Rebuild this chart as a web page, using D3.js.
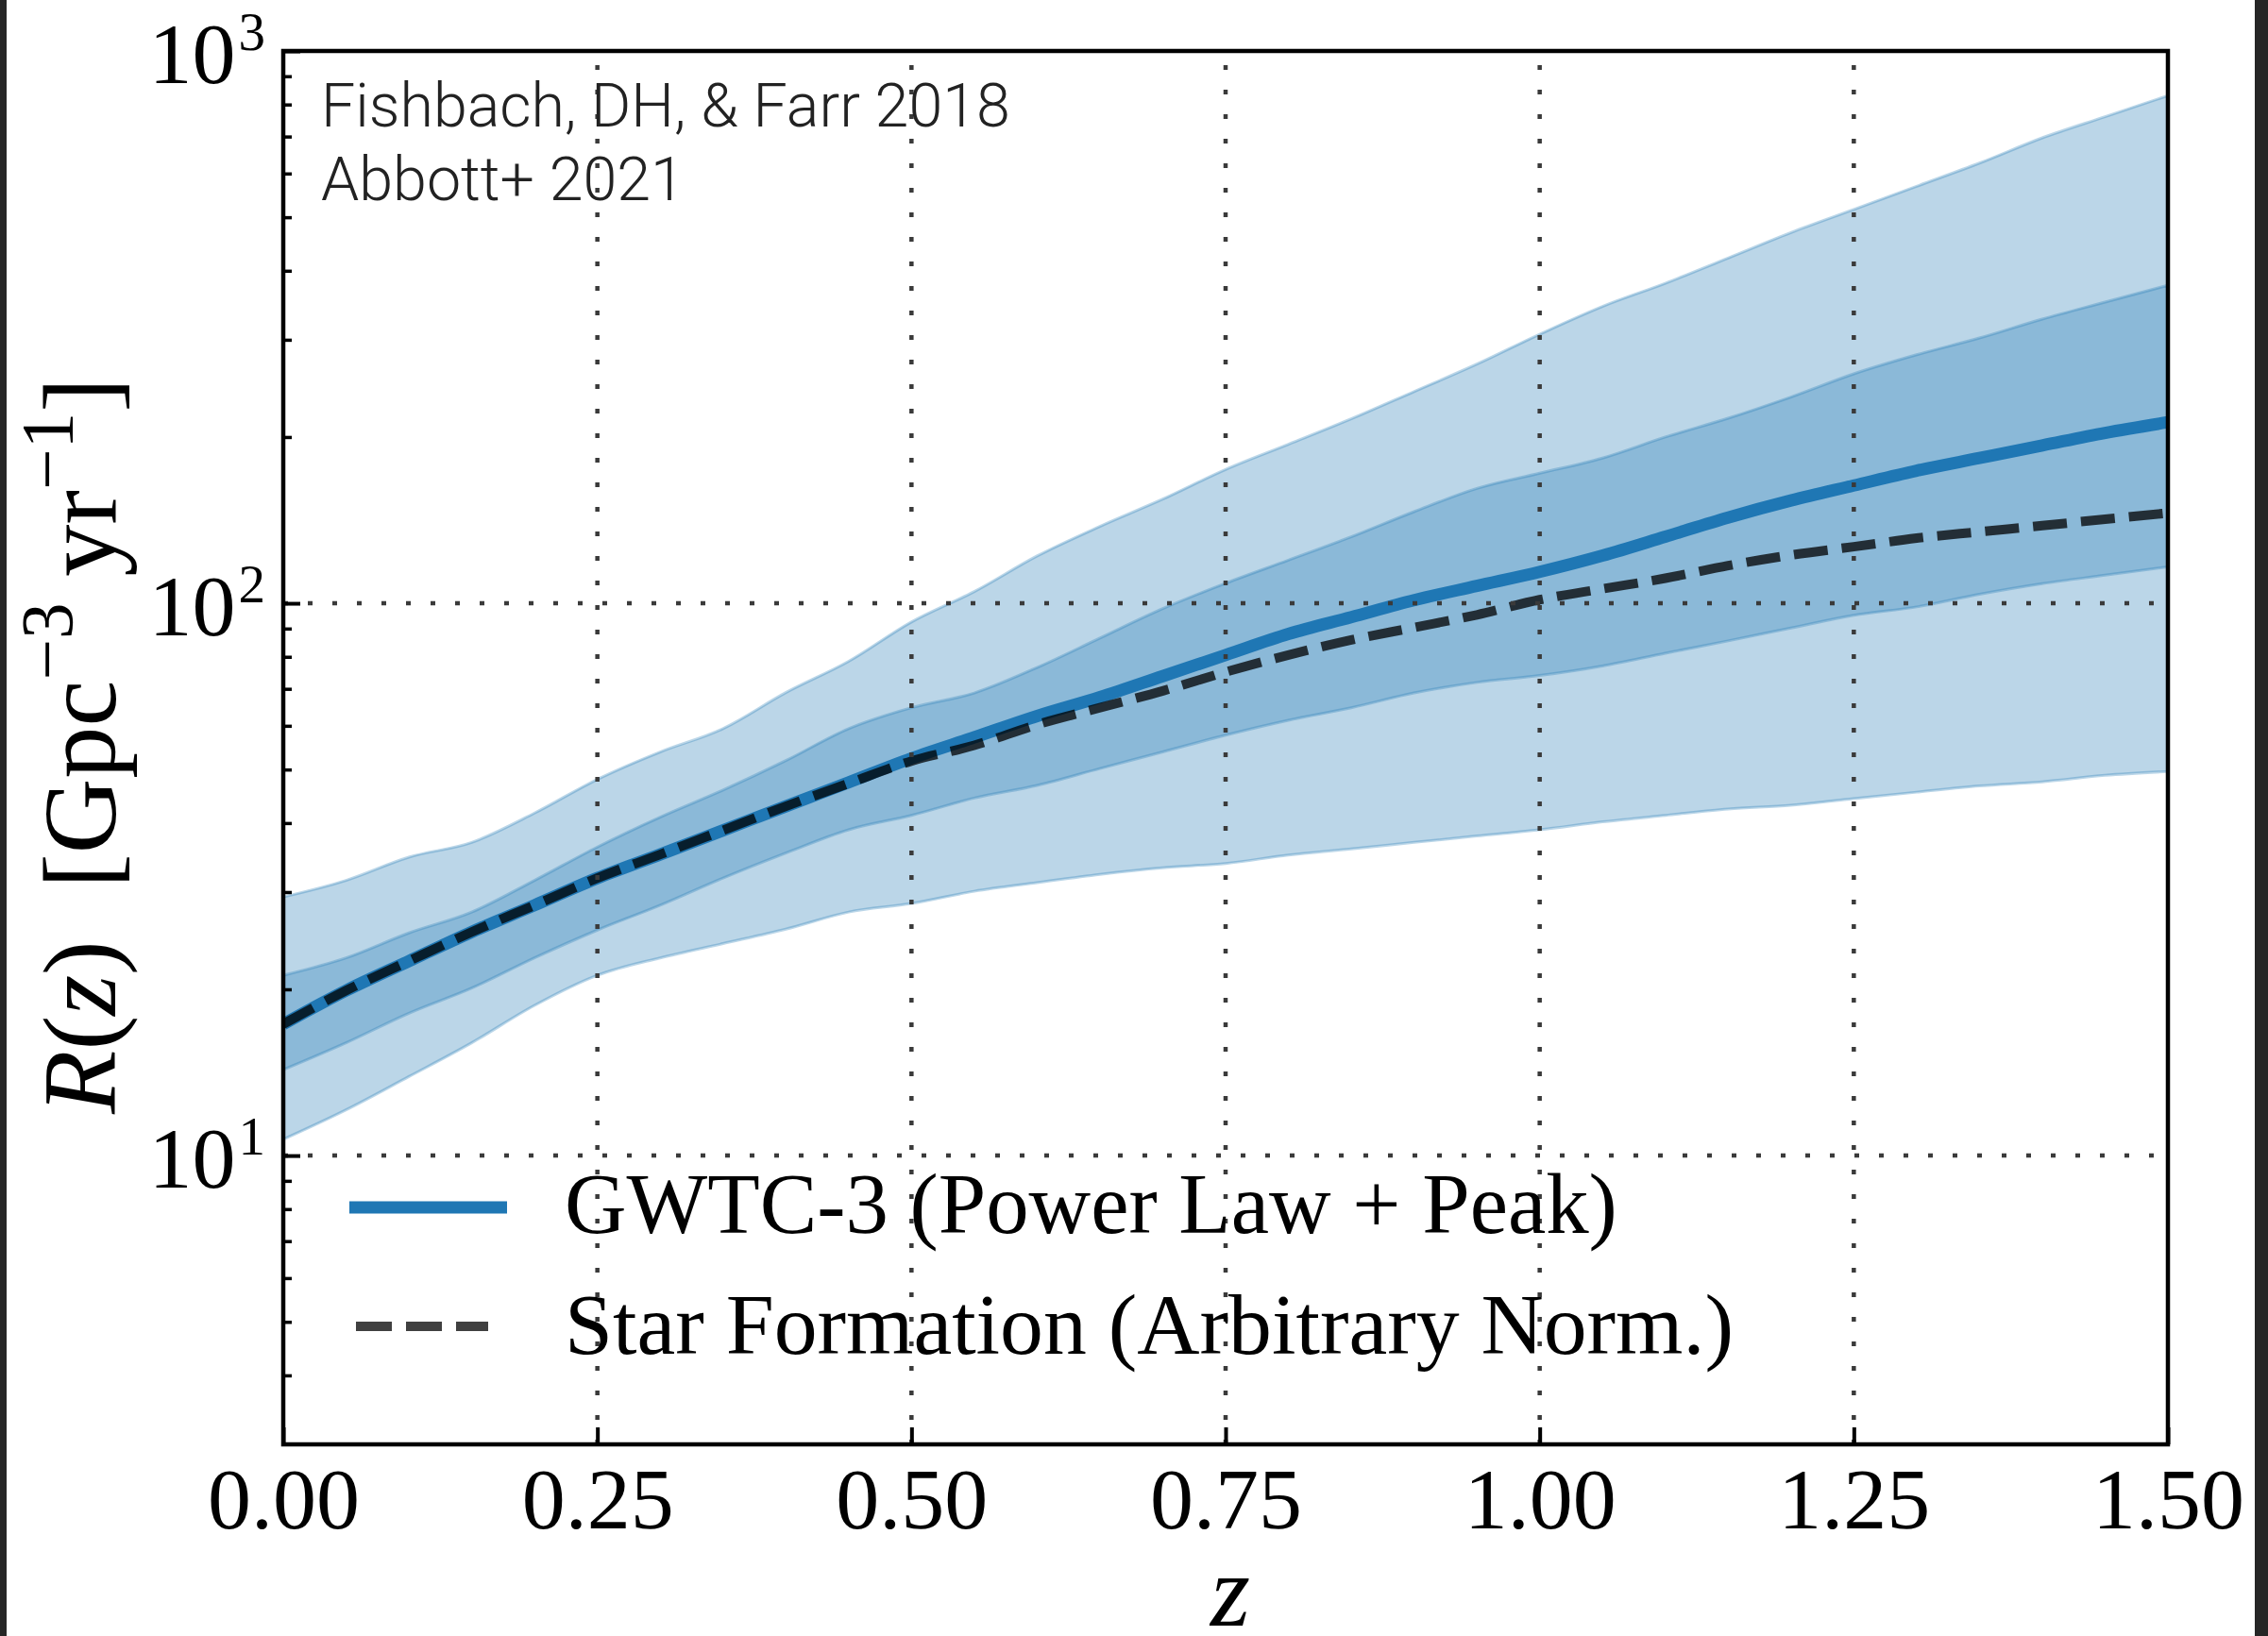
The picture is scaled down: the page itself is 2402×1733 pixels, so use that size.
<!DOCTYPE html>
<html><head><meta charset="utf-8">
<script src="https://cdn.jsdelivr.net/npm/d3@7"></script>
<style>html,body{margin:0;padding:0;background:#fff;overflow:hidden}</style>
</head><body>
<svg id="chart" width="2402" height="1733"></svg>
<script>
// ---------------- data ----------------
const zs = [0,0.05,0.1,0.15,0.2,0.25,0.3,0.35,0.4,0.45,0.5,0.55,0.6,0.65,0.7,0.75,0.8,0.85,0.9,0.95,1.0,1.05,1.1,1.15,1.2,1.25,1.3,1.35,1.4,1.45,1.5];
const hi90 = [29.4,31.5,34.7,36.9,41.7,48.0,53.8,59.3,68.9,78.5,92.5,105,121.8,137.8,154.4,174.7,194,215.7,241.7,271,307,344.8,379.7,421.9,469,516.4,568.9,626.6,696.2,760.3,830];
const hi50 = [21.2,22.8,25.3,27.6,31.5,36.2,41.0,45.9,51.9,59.3,64.7,68.8,76.5,86.5,97.8,108.7,119.7,131.9,146.5,161.4,172,183.2,200,216.3,236.3,260.3,281.8,302.2,327,351,376.5];
const median = [17.3,19.9,22.5,25.4,28.4,31.8,35.1,38.8,42.9,47.4,52.4,57.2,62.5,67.6,73.8,80.6,88.0,94.4,101.3,107.5,114,122,132,143,153.5,163.4,173.8,183.2,193.1,203.5,212.7];
const starFormation = [17.3,19.9,22.5,25.4,28.4,31.8,35.1,38.8,42.9,47.2,51.8,55.3,60.3,64.7,69.4,75.1,80.6,85.8,90.4,95.3,101.5,106.2,111,117,122.3,126.6,131.2,134.7,138.2,142,145.7];
const lo50 = [14.3,16.0,18.1,20.1,22.8,25.6,28.4,31.8,35.3,38.9,41.3,44.4,46.8,50.2,53.8,57.7,61.4,64.7,68.8,71.9,74,77,81.2,85.5,90.2,95.1,98.5,103.8,108.5,112.4,116.4];
const lo90 = [10.7,12.1,13.9,16.0,18.7,21.2,22.8,24.2,25.7,27.6,28.6,30.1,31.2,32.3,33.2,33.8,35.0,35.9,36.9,37.9,38.9,40.2,41.3,42.4,43.1,44.3,45.5,46.7,47.5,48.8,49.6];

const xTicks = [0,0.25,0.5,0.75,1.0,1.25,1.5];
const xTickLabels = ["0.00","0.25","0.50","0.75","1.00","1.25","1.50"];
const xGrid = [0.25,0.5,0.75,1.0,1.25];
const yMajor = [10,100,1000];
const yExponents = ["1","2","3"];
const yGrid = [10,100];
const yMinor = [4,5,6,7,8,9,20,30,40,50,60,70,80,90,200,300,400,500,600,700,800,900];
const legendLabels = ["GWTC-3 (Power Law + Peak)","Star Formation (Arbitrary Norm.)"];
const creditLines = ["Fishbach, DH, & Farr 2018","Abbott+ 2021"];

// ---------------- layout ----------------
const L=300, R=2296, T=54, B=1530;
const BLUE="#1f77b4";
const SERIF="'Liberation Serif','Times New Roman',serif";
const svg = d3.select("#chart");
const x = d3.scaleLinear().domain([0,1.5]).range([L,R]);
const y = d3.scaleLog().domain([3,1000]).range([B,T]);

svg.append("defs").append("clipPath").attr("id","plotclip")
  .append("rect").attr("x",L).attr("y",T).attr("width",R-L).attr("height",B-T);

const rows = zs.map((z,i)=>({z, hi90:hi90[i], hi50:hi50[i], med:median[i], sfr:starFormation[i], lo50:lo50[i], lo90:lo90[i]}));
const plot = svg.append("g").attr("clip-path","url(#plotclip)");

const area = (lo,hi)=>d3.area().x(d=>x(d.z)).y0(d=>y(d[lo])).y1(d=>y(d[hi])).curve(d3.curveMonotoneX);
plot.append("path").datum(rows).attr("d",area("lo90","hi90"))
  .attr("fill",BLUE).attr("fill-opacity",0.3).attr("stroke",BLUE).attr("stroke-opacity",0.3).attr("stroke-width",3);
plot.append("path").datum(rows).attr("d",area("lo50","hi50"))
  .attr("fill",BLUE).attr("fill-opacity",0.3).attr("stroke",BLUE).attr("stroke-opacity",0.3).attr("stroke-width",3);

const line = key=>d3.line().x(d=>x(d.z)).y(d=>y(d[key])).curve(d3.curveMonotoneX);
plot.append("path").datum(rows).attr("d",line("med"))
  .attr("fill","none").attr("stroke",BLUE).attr("stroke-width",13);
plot.append("path").datum(rows).attr("d",line("sfr"))
  .attr("fill","none").attr("stroke","#000").attr("stroke-opacity",0.75)
  .attr("stroke-width",10).attr("stroke-dasharray","36,15");

// grid (dotted, on top)
const grid = svg.append("g").attr("stroke","#3a3a3a").attr("stroke-width",4.5).attr("stroke-dasharray","5,21");
grid.selectAll("line.vx").data(xGrid).join("line").attr("class","vx")
  .attr("x1",d=>x(d)).attr("x2",d=>x(d)).attr("y1",B).attr("y2",T);
grid.selectAll("line.hy").data(yGrid).join("line").attr("class","hy")
  .attr("x1",L).attr("x2",R).attr("y1",d=>y(d)).attr("y2",d=>y(d));

// axes: ticks inward
const xAxis = svg.append("g").attr("transform",`translate(0,${B})`)
  .call(d3.axisBottom(x).tickValues(xTicks).tickSize(-18).tickFormat((d,i)=>xTickLabels[i]));
xAxis.select(".domain").remove();
xAxis.selectAll(".tick line").attr("stroke","#000").attr("stroke-width",4);
xAxis.selectAll(".tick text").attr("font-family",SERIF).attr("font-size",92).attr("fill","#000")
  .attr("y",89).attr("dy",0);

const yAxis = svg.append("g").attr("transform",`translate(${L},0)`)
  .call(d3.axisLeft(y).tickValues(yMajor).tickSize(-18).tickFormat(""));
yAxis.select(".domain").remove();
yAxis.selectAll(".tick line").attr("stroke","#000").attr("stroke-width",4);
const yAxisMinor = svg.append("g").attr("transform",`translate(${L},0)`)
  .call(d3.axisLeft(y).tickValues(yMinor).tickSize(-9).tickFormat(""));
yAxisMinor.select(".domain").remove();
yAxisMinor.selectAll(".tick line").attr("stroke","#000").attr("stroke-width",3.5);

// y tick labels 10^n
const yl = svg.append("g").attr("font-family",SERIF).attr("fill","#000");
yMajor.forEach((v,i)=>{
  const t = yl.append("text").attr("x",281).attr("y",y(v)+34).attr("text-anchor","end").attr("font-size",92);
  t.append("tspan").text("10");
  t.append("tspan").attr("font-size",57).attr("dx",3).attr("dy",-35).text(yExponents[i]);
});

// spines
svg.append("rect").attr("x",L).attr("y",T).attr("width",R-L).attr("height",B-T)
  .attr("fill","none").attr("stroke","#000").attr("stroke-width",4.5);

// helper: fit text to a measured width
function fit(sel,target){
  const w = sel.node().getComputedTextLength();
  const fs = parseFloat(sel.attr("font-size"));
  const nf = fs*target/w;
  sel.attr("font-size",nf);
  return nf;
}

// axis labels
svg.append("text").attr("x",1303).attr("y",1722).attr("text-anchor","middle")
  .attr("font-family",SERIF).attr("font-style","italic").attr("font-size",108).text("z");

const ylab = svg.append("text").attr("transform","translate(122,790) rotate(-90)")
  .attr("text-anchor","middle").attr("font-family",SERIF).attr("font-size",112)
  .style("white-space","pre");
ylab.append("tspan").attr("font-style","italic").text("R");
ylab.append("tspan").text("(");
ylab.append("tspan").attr("font-style","italic").text("z");
ylab.append("tspan").text(")\u2002[Gpc");
ylab.append("tspan").attr("font-size","0.7em").attr("dy","-0.6em").text("\u22123");
ylab.append("tspan").attr("dy","0.42em").text(" yr");
ylab.append("tspan").attr("font-size","0.7em").attr("dy","-0.6em").text("\u22121");
ylab.append("tspan").attr("dy","0.42em").text("]");
fit(ylab,780);

// legend
const lg = svg.append("g");
lg.append("line").attr("x1",370).attr("x2",537).attr("y1",1279).attr("y2",1279)
  .attr("stroke",BLUE).attr("stroke-width",13);
lg.append("line").attr("x1",377).attr("x2",517).attr("y1",1405).attr("y2",1405)
  .attr("stroke","#000").attr("stroke-opacity",0.75).attr("stroke-width",10).attr("stroke-dasharray","38,15");
const lt1 = lg.append("text").attr("x",598).attr("y",1306).attr("font-family",SERIF).attr("font-size",90).text(legendLabels[0]);
const lt2 = lg.append("text").attr("x",598).attr("y",1434).attr("font-family",SERIF).attr("font-size",90).text(legendLabels[1]);
fit(lt1,1115); fit(lt2,1238);

// credits
const c1 = svg.append("text").attr("x",340).attr("y",134).attr("font-family","Roboto,'Open Sans',Lato,sans-serif")
  .attr("font-weight",300).attr("font-size",60).attr("fill","#222").text(creditLines[0]);
const cf = fit(c1,730);
svg.append("text").attr("x",340).attr("y",212).attr("font-family","Roboto,'Open Sans',Lato,sans-serif")
  .attr("font-weight",300).attr("font-size",cf).attr("fill","#222").text(creditLines[1]);

// screenshot edge strips
svg.append("rect").attr("x",0).attr("y",0).attr("width",7).attr("height",1733).attr("fill","#262626");
svg.append("rect").attr("x",2388).attr("y",0).attr("width",14).attr("height",1733).attr("fill","#262626");
</script>
</body></html>
